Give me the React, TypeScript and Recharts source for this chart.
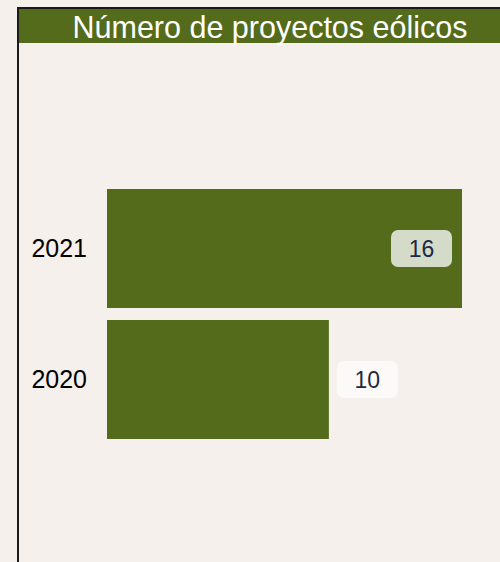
import { Bar, BarChart, LabelList, XAxis, YAxis } from "recharts";

const years = ["2021", "2020"];
const projects = [16, 10];
const TITLE = "Número de proyectos eólicos";

const chartData = years.map((year, i) => ({ year, projects: projects[i] }));

const GREEN = "#536b1b";
const BG = "#f5f0eb";

type LabelProps = {
  x?: number;
  y?: number;
  width?: number;
  height?: number;
  value?: number | string;
};

const ValueBadge = ({ x = 0, y = 0, width = 0, height = 0, value }: LabelProps) => {
  const boxW = 61;
  const boxH = 37;
  const inside = width > 250;
  const bx = inside ? x + width - 10 - boxW : x + width + 8;
  const cy = y + height / 2;
  return (
    <g>
      <rect
        x={bx}
        y={cy - boxH / 2}
        width={boxW}
        height={boxH}
        rx={7}
        fill={inside ? "#d4dbc9" : "#fcfaf8"}
      />
      <text
        x={bx + boxW / 2}
        y={cy}
        textAnchor="middle"
        dominantBaseline="central"
        fontSize={23}
        fill="#1b2a41"
      >
        {value}
      </text>
    </g>
  );
};

export default function App() {
  return (
    <div
      style={{
        position: "fixed",
        inset: 0,
        overflow: "hidden",
        background: BG,
        fontFamily: "'Liberation Sans', Arial, sans-serif",
      }}
    >
      <div
        style={{
          position: "absolute",
          left: 17,
          top: 7,
          width: 502,
          height: 620,
          border: "2px solid #1a1a1a",
        }}
      >
        <div
          style={{
            height: 34,
            lineHeight: "36px",
            background: GREEN,
            color: "#ffffff",
            fontSize: 30.5,
            textAlign: "center",
            whiteSpace: "nowrap",
          }}
        >
          {TITLE}
        </div>
      </div>
      <div style={{ position: "absolute", left: 0, top: 0 }}>
        <BarChart
          width={500}
          height={562}
          data={chartData}
          layout="vertical"
          margin={{ top: 183, right: 38, bottom: 117, left: 0 }}
          barCategoryGap={6}
        >
          <XAxis type="number" domain={[0, 16]} hide />
          <YAxis
            type="category"
            dataKey="year"
            width={107}
            axisLine={false}
            tickLine={false}
            tickSize={0}
            tickMargin={20}
            tick={{ fill: "#000000", fontSize: 25 }}
          />
          <Bar dataKey="projects" fill={GREEN} isAnimationActive={false}>
            <LabelList dataKey="projects" content={(p: any) => <ValueBadge {...p} />} />
          </Bar>
        </BarChart>
      </div>
    </div>
  );
}
